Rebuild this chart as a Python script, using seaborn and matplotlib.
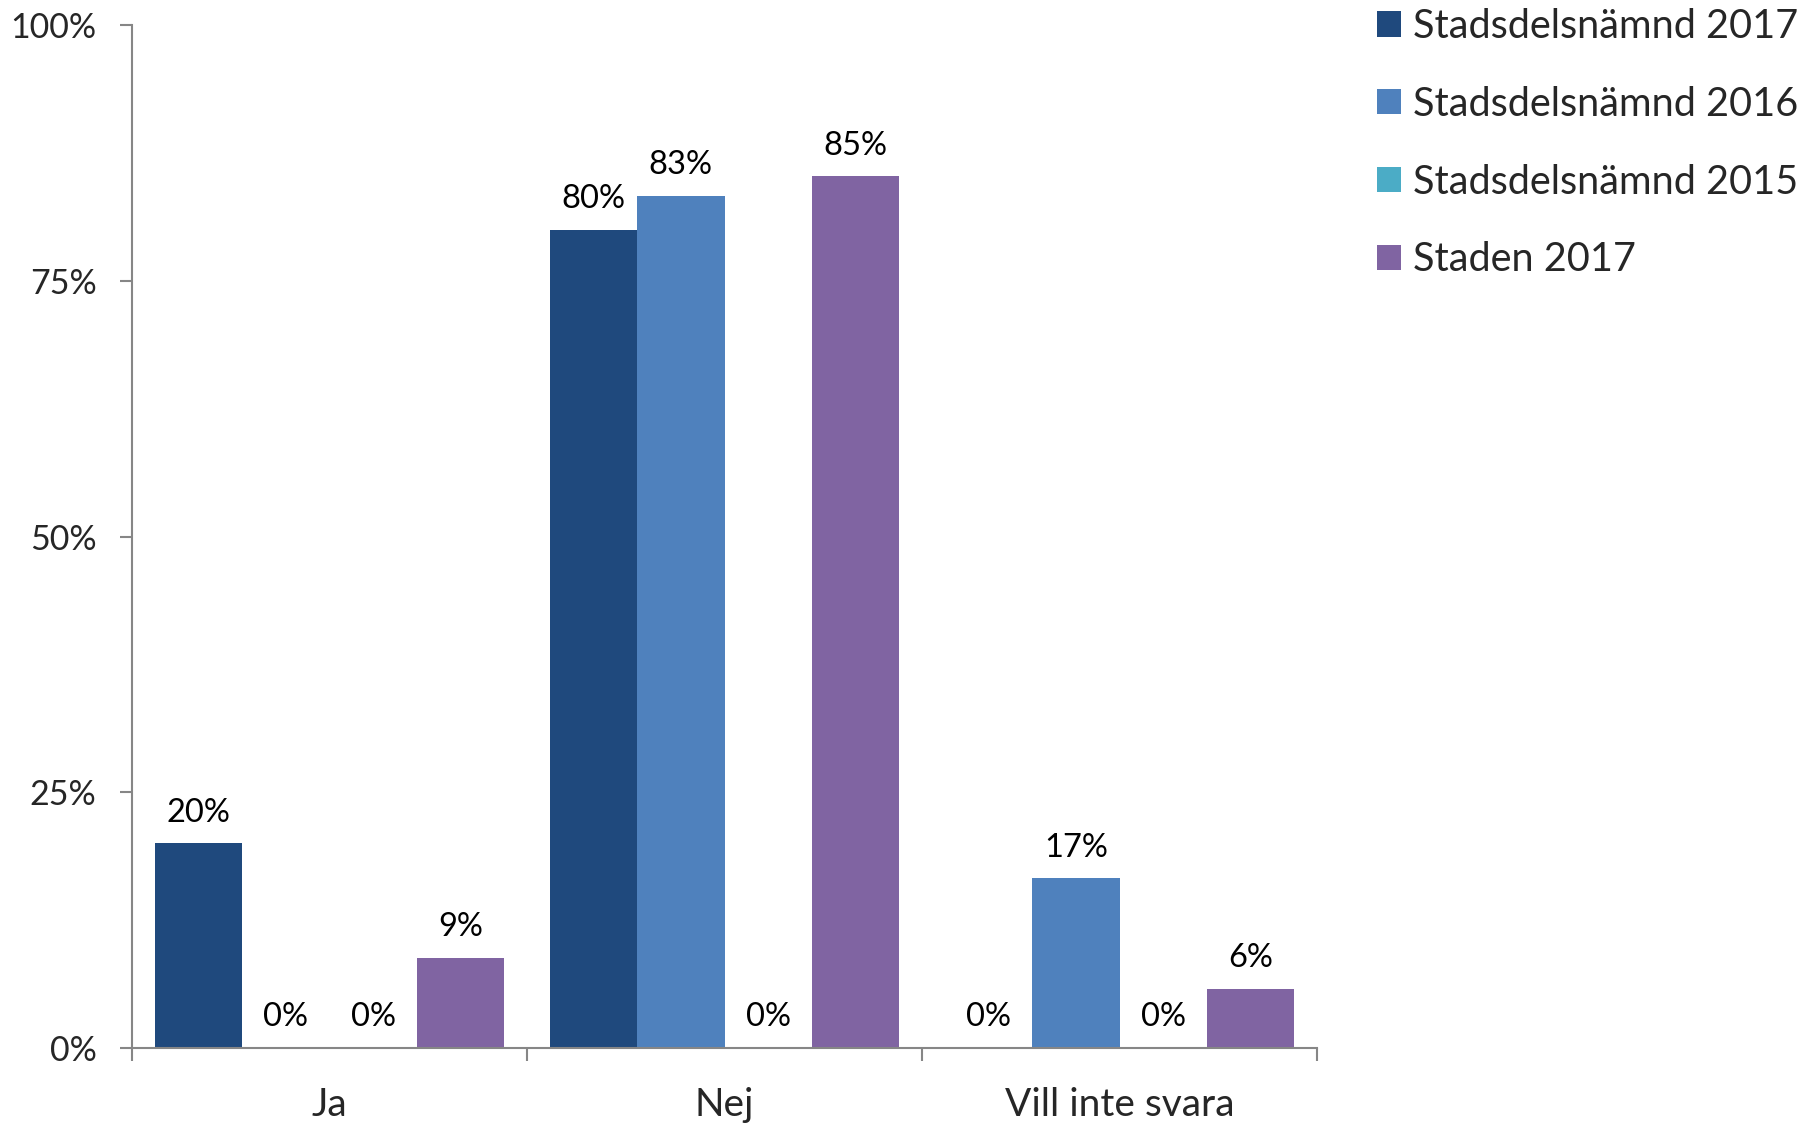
import numpy as np
import pandas as pd
import matplotlib
matplotlib.use("Agg")
import matplotlib.pyplot as plt
import seaborn as sns
from matplotlib.patches import Patch

categories = ["Ja", "Nej", "Vill inte svara"]
series = ["Stadsdelsnämnd 2017", "Stadsdelsnämnd 2016", "Stadsdelsnämnd 2015", "Staden 2017"]
values = {
    "Stadsdelsnämnd 2017": [20.0, 80.0, 0.0],
    "Stadsdelsnämnd 2016": [0.0, 83.3, 16.6],
    "Stadsdelsnämnd 2015": [0.0, 0.0, 0.0],
    "Staden 2017": [8.8, 85.2, 5.8],
}
colors = ["#1F497D", "#4F81BD", "#4BACC6", "#8064A2"]
yticks = [0, 25, 50, 75, 100]

# long format for seaborn
rows = []
for s in series:
    for c, v in zip(categories, values[s]):
        rows.append({"kategori": c, "serie": s, "andel": v})
df = pd.DataFrame(rows)

sns.set_style("white")
plt.rcParams["font.family"] = ["Lato", "DejaVu Sans"]

fig = plt.figure(figsize=(18.01, 11.25), dpi=100)
ax = fig.add_axes([132 / 1801, 1 - 1048 / 1125, (1317 - 132) / 1801, (1048 - 25) / 1125])

sns.barplot(data=df, x="kategori", y="andel", hue="serie", hue_order=series,
            order=categories, palette=colors, saturation=1, width=0.886, linewidth=0,
            legend=False, errorbar=None, ax=ax)

# etiketter ovanför staplarna
for cont in ax.containers:
    for bar in cont:
        h = bar.get_height()
        ax.annotate(f"{int(round(h))}%", (bar.get_x() + bar.get_width() / 2, h),
                    xytext=(0, 22), textcoords="offset points",
                    ha="center", va="center", fontsize=23.5, color="black")

ax.set_xlim(-0.5, len(categories) - 0.5)
ax.set_ylim(0, 100)
ax.set_yticks(yticks)
ax.set_yticklabels([f"{t}%" for t in yticks])
ax.set_xlabel("")
ax.set_ylabel("")

for side in ["top", "right"]:
    ax.spines[side].set_visible(False)
for side in ["left", "bottom"]:
    ax.spines[side].set_color("#868686")
    ax.spines[side].set_linewidth(1.5)

ax.tick_params(axis="y", which="major", length=8.6, width=1.5, color="#868686",
               direction="out", pad=17, labelsize=24.5, left=True)
ax.tick_params(axis="x", which="major", length=0, pad=28, labelsize=28)
ax.set_xticks(np.arange(-0.5, len(categories)), minor=True)
ax.tick_params(axis="x", which="minor", length=9, width=1.5, color="#868686",
               direction="out", bottom=True)
ax.grid(False)

handles = [Patch(facecolor=c, edgecolor="none") for c in colors]
fig.legend(handles, series, loc="upper left", bbox_to_anchor=(1377 / 1801, 1 - 8 / 1125),
           frameon=False, fontsize=28.5, handlelength=0.6, handleheight=0.6,
           handletextpad=0.3, labelspacing=1.03, borderpad=0, borderaxespad=0)

fig.savefig("out.png", dpi=100)
